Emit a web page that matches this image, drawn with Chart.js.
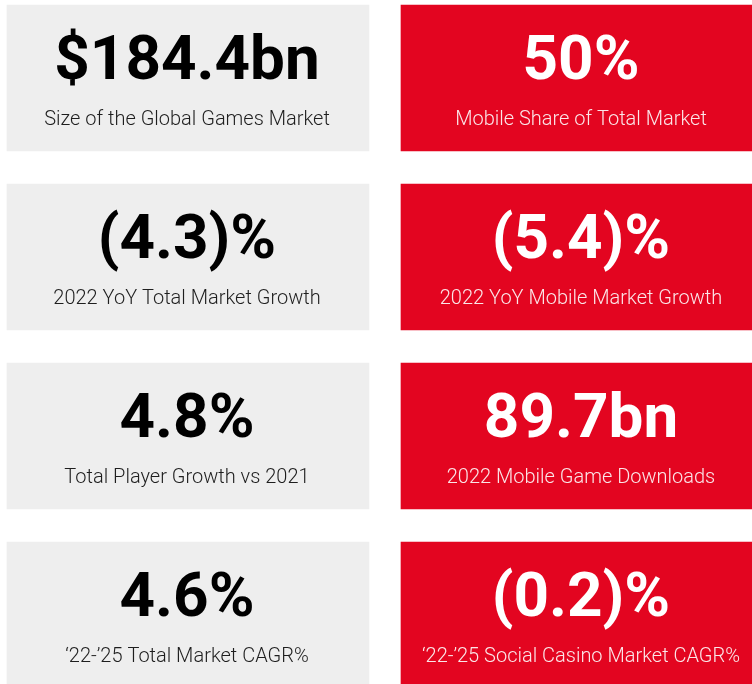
<!DOCTYPE html>
<html>
<head>
<meta charset="utf-8">
<script src="https://cdn.jsdelivr.net/npm/chart.js@4/dist/chart.umd.min.js"></script>
<style>
  html, body { margin: 0; padding: 0; background: #ffffff; }
  canvas { display: block; }
</style>
</head>
<body>
<canvas id="c" width="752" height="684"></canvas>
<script>
// ---- data ----
const rows = [0, 1, 2, 3];
const columns = [0, 1]; // 0 = total market (grey), 1 = mobile (red)
const leftValues = ['$184.4bn', '(4.3)%', '4.8%', '4.6%'];
const leftLabels = [
  'Size of the Global Games Market',
  '2022 YoY Total Market Growth',
  'Total Player Growth vs 2021',
  '\u201822-\u201925 Total Market CAGR%'
];
const rightValues = ['50%', '(5.4)%', '89.7bn', '(0.2)%'];
const rightLabels = [
  'Mobile Share of Total Market',
  '2022 YoY Mobile Market Growth',
  '2022 Mobile Game Downloads',
  '\u201822-\u201925 Social Casino Market CAGR%'
];

// ---- layout constants ----
const W = 752, H = 684;
const rowPitch = 179, tileH = 146, topPad = 5;
const colPitch = 394, tileW = 362, leftPad = 7;
const halfH = tileH / rowPitch / 2;
const halfW = tileW / colPitch / 2;
const yMin = -halfH - topPad / rowPitch;
const yMax = yMin + H / rowPitch;
const xMin = -halfW - leftPad / colPitch;
const xMax = xMin + W / colPitch;

const GREY = '#eeeeee';
const RED = '#e30520';

const points = [];
const values = [];
const labels = [];
const colors = [];
const textColors = [];
const labelColors = [];
rows.forEach(r => {
  columns.forEach(c => {
    points.push({ y: r, x: [c - halfW, c + halfW] });
    values.push(c === 0 ? leftValues[r] : rightValues[r]);
    labels.push(c === 0 ? leftLabels[r] : rightLabels[r]);
    colors.push(c === 0 ? GREY : RED);
    textColors.push(c === 0 ? '#000000' : '#ffffff');
    labelColors.push(c === 0 ? '#1e1e1e' : '#fbe6e8');
  });
});

const tileText = {
  id: 'tileText',
  afterDatasetsDraw(chart) {
    const ctx = chart.ctx;
    const meta = chart.getDatasetMeta(0);
    meta.data.forEach((el, i) => {
      const p = el.getProps(['x', 'y', 'base', 'height'], true);
      const cx = (p.x + p.base) / 2 - 1;
      const top = p.y - p.height / 2;
      ctx.save();
      ctx.textAlign = 'center';
      ctx.textBaseline = 'alphabetic';
      ctx.fillStyle = textColors[i];
      ctx.font = 'bold 62px Roboto, "Liberation Sans", sans-serif';
      ctx.fillText(values[i], cx, top + 74);
      ctx.fillStyle = labelColors[i];
      ctx.font = '300 20px Roboto, "Liberation Sans", sans-serif';
      ctx.fillText(labels[i], cx, top + 120);
      ctx.restore();
    });
  }
};

new Chart(document.getElementById('c'), {
  type: 'bar',
  data: {
    datasets: [{
      data: points,
      backgroundColor: colors,
      borderWidth: 0,
      borderSkipped: false,
      barThickness: tileH
    }]
  },
  options: {
    indexAxis: 'y',
    responsive: false,
    animation: false,
    layout: { padding: 0 },
    scales: {
      x: { type: 'linear', min: xMin, max: xMax, display: false, offset: false },
      y: { type: 'linear', min: yMin, max: yMax, reverse: true, display: false, offset: false }
    },
    plugins: {
      legend: { display: false },
      tooltip: { enabled: false }
    }
  },
  plugins: [tileText]
});
</script>
</body>
</html>
